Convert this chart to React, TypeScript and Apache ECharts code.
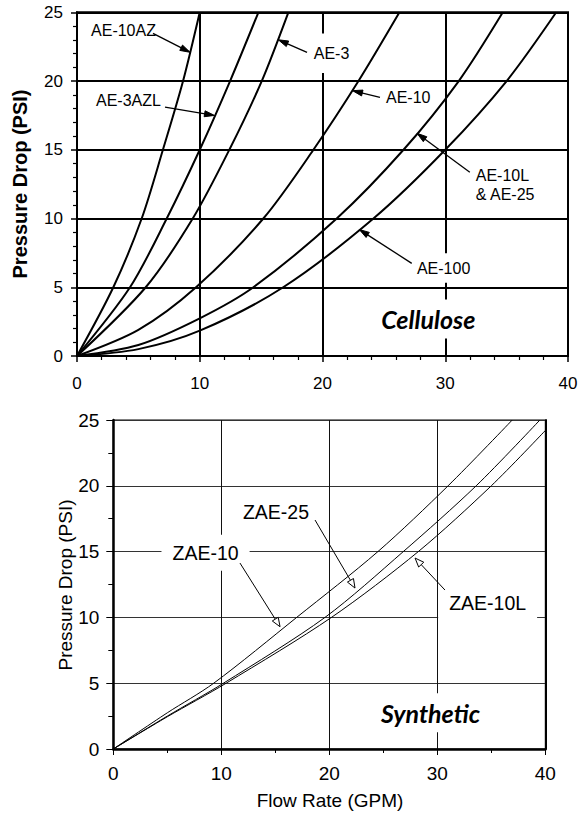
import React, { useEffect, useRef } from "react";
import * as echarts from "echarts";

// ---------- Cellulose (top chart) data: [flow GPM] vs [pressure PSI]
const PSI_A = [0, 5, 10, 15, 20, 25];
const AE10AZ_FLOW = [0, 2.96, 5.27, 7.0, 8.64, 10.0];
const AE3AZL_FLOW = [0, 4.32, 7.31, 10.0, 12.47, 14.78];
const AE3_FLOW = [0, 5.6, 9.43, 12.41, 15.05, 17.22];
const AE10_FLOW = [0, 5, 9.7, 15.18, 19.26, 22.93, 26.27];
const AE10_PSI = [0, 1.9, 5, 10, 15, 20, 25];
const AE10L_FLOW = [0, 5, 10, 14.37, 21.16, 26.6, 31.1, 34.69];
const AE10L_PSI = [0, 0.8, 2.74, 5, 10, 15, 20, 25];
const AE100_FLOW = [0, 5, 10, 16.8, 24.15, 30, 35, 39.04];
const AE100_PSI = [0, 0.5, 1.84, 5, 10, 15, 20, 25];

// ---------- Synthetic (bottom chart) data
const ZAE10_FLOW = [0, 5, 9.3, 16.98, 24.5, 31.0, 36.94];
const ZAE10_PSI = [0, 2.75, 5, 10, 15, 20, 25];
const ZAE25_FLOW = [0, 5, 10.2, 19.6, 26.85, 33.6, 39.5];
const ZAE25_PSI = [0, 2.5, 5, 10, 15, 20, 25];
const ZAE10L_FLOW = [0, 5, 10.45, 20.2, 28.24, 35.0, 40];
const ZAE10L_PSI = [0, 2.45, 5, 10, 15, 20, 24.2];

const X_TICKS = [0, 10, 20, 30, 40];
const Y_TICKS = [0, 5, 10, 15, 20, 25];

// annotations: label, text anchor (data), arrow start (data), arrow tip (data)
const TOP_NOTES = [
  { text: "AE-10AZ", at: [0.9, 23.69], from: [6.19, 23.47], to: [9.21, 22.09] },
  { text: "AE-3AZL", at: [1.3, 18.6], from: [7.17, 18.1], to: [11.2, 17.5] },
  { text: "AE-3", at: [19.04, 22.02], from: [18.74, 22.09], to: [16.4, 23.0] },
  { text: "AE-10", at: [24.93, 18.82], from: [24.68, 18.82], to: [22.45, 19.3] },
  { text: "AE-10L\n& AE-25", at: [32.24, 12.45], from: [32.0, 13.37], to: [27.7, 16.2] },
  { text: "AE-100", at: [27.45, 6.4], from: [27.27, 6.74], to: [23.0, 9.2] },
];
const BOTTOM_NOTES = [
  { text: "ZAE-10", at: [8.54, 14.92], from: [11.73, 14.13], to: [15.44, 9.29] },
  { text: "ZAE-25", at: [15.06, 18.03], from: [18.68, 17.4], to: [22.38, 12.23] },
  { text: "ZAE-10L", at: [34.66, 11.07], from: [30.71, 12.08], to: [27.94, 14.51] },
];
const TOP_TAG = { text: "Cellulose", at: [28.62, 2.69] };
const BOTTOM_TAG = { text: "Synthetic", at: [29.37, 2.76] };

const FONT = '"Liberation Sans", Arial, sans-serif';
const TAG_FONT = 'Lato, "Open Sans", sans-serif';

const pairs = (xs: number[], ys: number[]) => xs.map((x, i) => [x, ys[i]]);

function lineSeries(name: string, xs: number[], ys: number[], idx: number, width: number) {
  return {
    name,
    type: "line",
    xAxisIndex: idx,
    yAxisIndex: idx,
    data: pairs(xs, ys),
    showSymbol: false,
    symbol: "none",
    smooth: 0.3,
    lineStyle: { color: "#000", width },
    z: 3,
  };
}

export default function App() {
  const ref = useRef<HTMLDivElement>(null);
  useEffect(() => {
    const chart = echarts.init(ref.current!, null, { renderer: "svg" });
    const option: any = {
      animation: false,
      backgroundColor: "#fff",
      grid: [
        { left: 77, top: 12.3, width: 491, height: 343.7, show: true, borderColor: "#000", borderWidth: 2 },
        { left: 113.3, top: 420, width: 432, height: 329, show: true, borderColor: "#000", borderWidth: 1 },
      ],
      xAxis: [
        {
          gridIndex: 0, type: "value", min: X_TICKS[0], max: X_TICKS[X_TICKS.length - 1], interval: 10,
          axisLine: { show: true, lineStyle: { color: "#000", width: 2 } },
          axisTick: { show: true, length: 6, lineStyle: { color: "#000", width: 1.5 } },
          minorTick: { show: true, splitNumber: 5, length: 4, lineStyle: { color: "#000", width: 1.2 } },
          splitLine: { show: true, lineStyle: { color: "#000", width: 2 } },
          axisLabel: { color: "#000", fontSize: 17, fontFamily: FONT, margin: 19 },
        },
        {
          gridIndex: 1, type: "value", min: X_TICKS[0], max: X_TICKS[X_TICKS.length - 1], interval: 10,
          axisLine: { show: true, lineStyle: { color: "#000", width: 2.5 } },
          axisTick: { show: true, length: 6, lineStyle: { color: "#000", width: 1 } },
          minorTick: { show: true, splitNumber: 2, length: 4, lineStyle: { color: "#000", width: 1 } },
          splitLine: { show: true, lineStyle: { color: "#111", width: 1 } },
          axisLabel: { color: "#000", fontSize: 19, fontFamily: FONT, margin: 15 },
        },
      ],
      yAxis: [
        {
          gridIndex: 0, type: "value", min: Y_TICKS[0], max: Y_TICKS[Y_TICKS.length - 1], interval: 5,
          axisLine: { show: true, lineStyle: { color: "#000", width: 2 } },
          axisTick: { show: true, length: 6, lineStyle: { color: "#000", width: 1.5 } },
          minorTick: { show: true, splitNumber: 5, length: 4, lineStyle: { color: "#000", width: 1.2 } },
          splitLine: { show: true, lineStyle: { color: "#000", width: 2 } },
          axisLabel: { color: "#000", fontSize: 17, fontFamily: FONT, margin: 14 },
        },
        {
          gridIndex: 1, type: "value", min: Y_TICKS[0], max: Y_TICKS[Y_TICKS.length - 1], interval: 5,
          axisLine: { show: true, lineStyle: { color: "#000", width: 2.5 } },
          axisTick: { show: true, length: 7, lineStyle: { color: "#000", width: 1 } },
          minorTick: { show: true, splitNumber: 2, length: 5, lineStyle: { color: "#000", width: 1 } },
          splitLine: { show: true, lineStyle: { color: "#333", width: 1 } },
          axisLabel: { color: "#000", fontSize: 19, fontFamily: FONT, margin: 14 },
        },
        {
          gridIndex: 1, type: "value", position: "right", min: 0, max: 25, interval: 5,
          axisLine: { show: true, lineStyle: { color: "#000", width: 2 } },
          axisTick: { show: false }, axisLabel: { show: false }, splitLine: { show: false },
        },
      ],
      series: [
        lineSeries("AE-10AZ", AE10AZ_FLOW, PSI_A, 0, 2),
        lineSeries("AE-3AZL", AE3AZL_FLOW, PSI_A, 0, 2),
        lineSeries("AE-3", AE3_FLOW, PSI_A, 0, 2),
        lineSeries("AE-10", AE10_FLOW, AE10_PSI, 0, 2),
        lineSeries("AE-10L & AE-25", AE10L_FLOW, AE10L_PSI, 0, 2),
        lineSeries("AE-100", AE100_FLOW, AE100_PSI, 0, 2),
        lineSeries("ZAE-10", ZAE10_FLOW, ZAE10_PSI, 1, 1),
        lineSeries("ZAE-25", ZAE25_FLOW, ZAE25_PSI, 1, 1),
        lineSeries("ZAE-10L", ZAE10L_FLOW, ZAE10L_PSI, 1, 1),
      ],
    };
    chart.setOption(option);

    const toPx = (g: number, p: number[]) => chart.convertToPixel({ gridIndex: g } as any, p) as number[];
    const graphics: any[] = [];

    const arrow = (s: number[], t: number[], L: number, W: number, open: boolean, lw: number) => {
      const dx = t[0] - s[0];
      const dy = t[1] - s[1];
      const len = Math.hypot(dx, dy) || 1;
      const ux = dx / len, uy = dy / len;
      const bx = t[0] - ux * L, by = t[1] - uy * L;
      const nx = -uy, ny = ux;
      graphics.push({
        type: "line", z: 100,
        shape: { x1: s[0], y1: s[1], x2: open ? bx : t[0] - ux * 2, y2: open ? by : t[1] - uy * 2 },
        style: { stroke: "#000", lineWidth: lw },
      });
      graphics.push({
        type: "polygon", z: 101,
        shape: { points: [[t[0], t[1]], [bx + nx * W / 2, by + ny * W / 2], [bx - nx * W / 2, by - ny * W / 2]] },
        style: { fill: open ? "#fff" : "#000", stroke: "#000", lineWidth: 1 },
      });
    };

    TOP_NOTES.forEach((n) => {
      const p = toPx(0, n.at);
      graphics.push({
        type: "text", z: 99, x: p[0], y: p[1],
        style: {
          text: n.text, fill: "#000", fontSize: 16, fontFamily: FONT, align: "left", verticalAlign: "middle",
          lineHeight: 19.5, backgroundColor: "#fff", padding: n.text === "AE-3" ? [10, 3] : [5, 3],
        },
      });
      arrow(toPx(0, n.from), toPx(0, n.to), 10, 6, false, 1.3);
    });
    BOTTOM_NOTES.forEach((n) => {
      const p = toPx(1, n.at);
      graphics.push({
        type: "text", z: 99, x: p[0], y: p[1],
        style: {
          text: n.text, fill: "#000", fontSize: 19.5, fontFamily: FONT, align: "center", verticalAlign: "middle",
          backgroundColor: "#fff", padding: [8, 11],
        },
      });
      arrow(toPx(1, n.from), toPx(1, n.to), 9, 7, true, 1);
    });
    [[TOP_TAG, 0], [BOTTOM_TAG, 1]].forEach(([tag, g]: any) => {
      const p = toPx(g, tag.at);
      graphics.push({
        type: "text", z: 99, x: p[0], y: p[1],
        style: {
          text: tag.text, fill: "#000", fontSize: 25, fontWeight: "bold", fontStyle: "italic", fontFamily: TAG_FONT,
          align: "center", verticalAlign: "middle", backgroundColor: "#fff", padding: [7, 4],
        },
      });
    });
    // axis titles
    graphics.push({
      type: "text", z: 99, x: 20, y: 184, rotation: Math.PI / 2,
      style: { text: "Pressure Drop (PSI)", fill: "#000", fontSize: 20, fontWeight: "bold", fontFamily: FONT, align: "center", verticalAlign: "middle" },
    });
    graphics.push({
      type: "text", z: 99, x: 65, y: 585, rotation: Math.PI / 2,
      style: { text: "Pressure Drop (PSI)", fill: "#000", fontSize: 19, fontFamily: FONT, align: "center", verticalAlign: "middle" },
    });
    graphics.push({
      type: "text", z: 99, x: 330, y: 800,
      style: { text: "Flow Rate (GPM)", fill: "#000", fontSize: 19, fontFamily: FONT, align: "center", verticalAlign: "middle" },
    });

    chart.setOption({ graphic: graphics });
    return () => chart.dispose();
  }, []);
  return (
    <div
      ref={ref}
      style={{ position: "fixed", left: 0, top: 0, width: 586, height: 813, background: "#fff" }}
    />
  );
}
